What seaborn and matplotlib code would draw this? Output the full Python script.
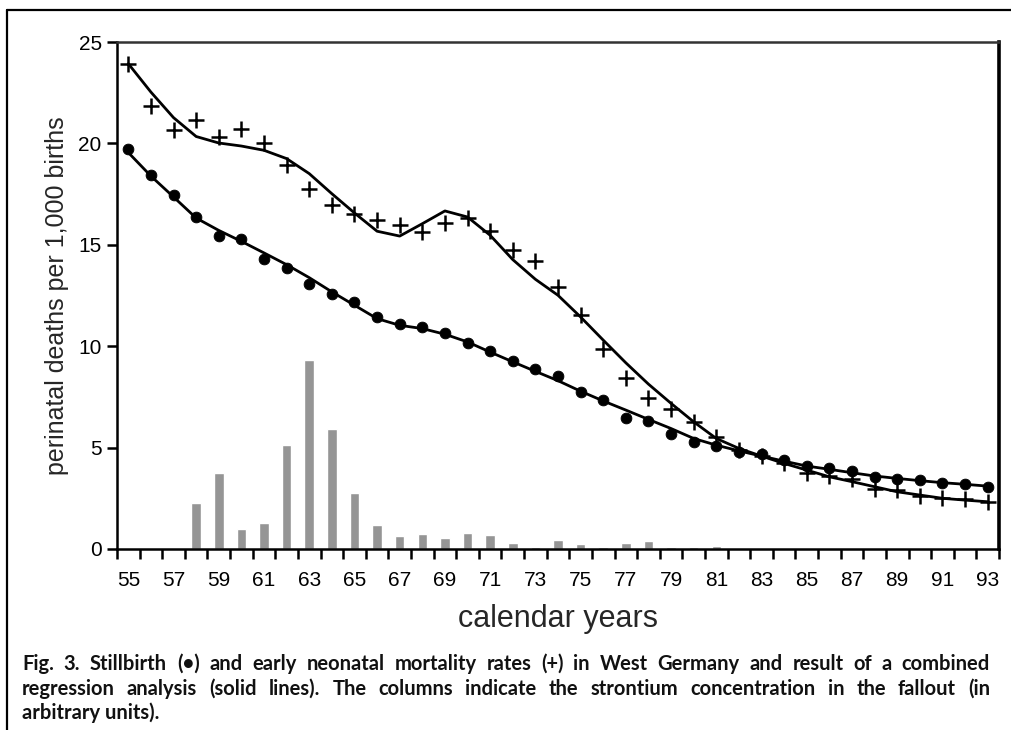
import numpy as np
import pandas as pd
import matplotlib
matplotlib.use("Agg")
import matplotlib.pyplot as plt
from matplotlib.lines import Line2D
from matplotlib.ticker import FixedLocator
import seaborn as sns

# ---------------- data ----------------
years = list(range(55, 94))

stillbirth = [19.72, 18.46, 17.47, 16.35, 15.43, 15.27, 14.30, 13.88, 13.07, 12.56,
              12.17, 11.44, 11.08, 10.95, 10.64, 10.16, 9.75, 9.26, 8.87, 8.53,
              7.76, 7.34, 6.47, 6.29, 5.68, 5.30, 5.09, 4.79, 4.68, 4.38,
              4.10, 3.97, 3.86, 3.53, 3.46, 3.40, 3.24, 3.20, 3.07]

stillbirth_fit = [19.55, 18.39, 17.36, 16.32, 15.71, 15.17, 14.60, 14.02, 13.38, 12.68,
                  12.02, 11.36, 11.03, 10.87, 10.59, 10.21, 9.71, 9.23, 8.76, 8.30,
                  7.78, 7.30, 6.85, 6.39, 5.94, 5.45, 5.12, 4.84, 4.58, 4.33,
                  4.09, 3.93, 3.76, 3.60, 3.48, 3.37, 3.27, 3.19, 3.10]

neonatal = [23.93, 21.86, 20.64, 21.13, 20.34, 20.72, 20.02, 18.95, 17.77, 16.95,
            16.54, 16.21, 15.96, 15.63, 16.08, 16.32, 15.67, 14.76, 14.22, 12.92,
            11.56, 9.84, 8.44, 7.47, 6.91, 6.27, 5.50, 4.88, 4.61, 4.22,
            3.76, 3.60, 3.46, 2.96, 2.91, 2.63, 2.50, 2.45, 2.33]

neonatal_fit = [23.93, 22.53, 21.27, 20.34, 20.02, 19.87, 19.66, 19.25, 18.51, 17.52,
                16.57, 15.67, 15.43, 16.04, 16.67, 16.37, 15.47, 14.27, 13.30, 12.51,
                11.44, 10.30, 9.18, 8.13, 7.18, 6.27, 5.45, 4.96, 4.58, 4.22,
                3.89, 3.56, 3.32, 3.07, 2.82, 2.66, 2.50, 2.41, 2.33]

strontium = [0, 0, 0, 2.25, 3.76, 0.97, 1.27, 5.12, 9.34, 5.94,
             2.76, 1.20, 0.62, 0.74, 0.54, 0.79, 0.69, 0.32, 0.11, 0.44,
             0.24, 0.11, 0.31, 0.39, 0.11, 0.08, 0.15, 0, 0, 0,
             0, 0, 0, 0, 0, 0, 0, 0, 0]

xtick_labels = [str(y) for y in range(55, 94, 2)]
ytick_values = [0, 5, 10, 15, 20, 25]

ylabel = "perinatal deaths per 1,000 births"
xlabel = "calendar years"
caption_lines = [
    "Fig. 3. Stillbirth (\u2022) and early neonatal mortality rates (+) in West Germany and result of a combined",
    "regression analysis (solid lines). The columns indicate the strontium concentration in the fallout (in",
    "arbitrary units).",
]

df = pd.DataFrame({"year": years, "still": stillbirth, "still_fit": stillbirth_fit,
                   "neo": neonatal, "neo_fit": neonatal_fit, "sr": strontium})

# ---------------- style ----------------
sns.set_style("ticks")
plt.rcParams["font.family"] = ["Liberation Sans", "DejaVu Sans"]

fig = plt.figure(figsize=(10.11, 7.30), dpi=100)
ax = fig.add_axes([117 / 1011, 1 - 549 / 730, (999 - 117) / 1011, (549 - 42) / 730])

sns.barplot(data=df, x="year", y="sr", native_scale=True, width=0.42,
            color="#959595", saturation=1, ax=ax, zorder=1)

sns.lineplot(data=df, x="year", y="neo_fit", color="black", linewidth=2.0, ax=ax, zorder=3)
sns.lineplot(data=df, x="year", y="still_fit", color="black", linewidth=2.0, ax=ax, zorder=3)

ax.plot(df["year"], df["neo"], linestyle="none", marker="+", markersize=12,
        markeredgewidth=1.8, color="black", zorder=4)
sns.scatterplot(data=df, x="year", y="still", marker="o", s=60, color="black",
                edgecolor="black", ax=ax, zorder=4)

ax.set_xlim(54.5, 93.5)
ax.set_ylim(0, 25)
ax.set_yticks(ytick_values)
ax.set_yticklabels([str(v) for v in ytick_values], fontsize=15)
ax.set_xticks(list(range(55, 94, 2)))
ax.set_xticklabels(xtick_labels, fontsize=15)
ax.xaxis.set_minor_locator(FixedLocator(np.arange(54.5, 94.0, 1.0)))
ax.tick_params(axis="x", which="major", bottom=True, length=0, pad=16, colors="black")
ax.tick_params(axis="x", which="minor", bottom=True, length=7, width=1.8,
               direction="out", color="black")
ax.tick_params(axis="y", which="major", left=True, length=7, width=1.8,
               direction="out", pad=4, colors="black")

for side in ["left", "bottom", "top", "right"]:
    ax.spines[side].set_visible(True)
    ax.spines[side].set_zorder(6)
for side in ["left", "bottom"]:
    ax.spines[side].set_linewidth(1.8)
    ax.spines[side].set_color("black")
ax.spines["top"].set_linewidth(1.8)
ax.spines["top"].set_color("#333333")
ax.spines["right"].set_linewidth(2.6)
ax.spines["right"].set_color("black")

ax.set_ylabel(ylabel, fontsize=18, labelpad=7)
ax.set_xlabel(xlabel, fontsize=22, labelpad=10)

# caption (justified lines, last line left aligned)
left_px, right_px = 22, 990
ys = [664, 689, 713]
cap_kw = dict(fontsize=14.5, fontweight="bold", family=["Lato", "DejaVu Sans"],
              va="center", ha="left", color="#111111")
renderer = fig.canvas.get_renderer()
for i, (t, yy) in enumerate(zip(caption_lines, ys)):
    yf = 1 - yy / 730
    if i == len(caption_lines) - 1:
        fig.text(left_px / 1011, yf, t, **cap_kw)
        continue
    words = t.split(" ")
    objs = [fig.text(0, yf, w, **cap_kw) for w in words]
    widths = [o.get_window_extent(renderer=renderer).width for o in objs]
    gap = (right_px - left_px - sum(widths)) / (len(words) - 1)
    x = left_px
    for o, w in zip(objs, widths):
        o.set_x(x / 1011)
        x += w + gap

# outer frame (top and left edges)
fig.add_artist(Line2D([7 / 1011, 1.0], [1 - 10 / 730, 1 - 10 / 730], color="black",
                      linewidth=1.6, transform=fig.transFigure))
fig.add_artist(Line2D([7 / 1011, 7 / 1011], [0, 1 - 10 / 730], color="black",
                      linewidth=1.6, transform=fig.transFigure))

fig.savefig("out.png", dpi=100)
